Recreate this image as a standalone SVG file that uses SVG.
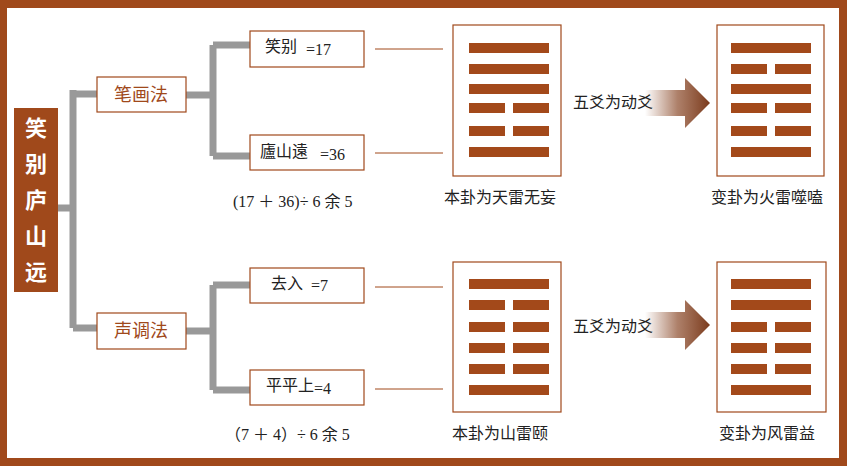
<svg xmlns="http://www.w3.org/2000/svg" width="847" height="466" viewBox="0 0 847 466">
<style>
.b{fill:#fff;stroke:#A0491B;stroke-width:1.2}
.bar{fill:#A3491A}
.g{fill:none;stroke:#999;stroke-width:7}
.t{font-family:"Noto Sans CJK SC",sans-serif;font-size:16px;fill:#222}
.n{font-family:"Liberation Serif","Noto Sans CJK SC",serif;font-size:16px;fill:#222}
.o{font-family:"Noto Sans CJK SC",sans-serif;font-size:18px;fill:#A0491B}
.th{stroke:#A0491B;stroke-width:1}
</style>
<defs>
<linearGradient id="ag" x1="0" x2="1" y1="0" y2="0">
<stop offset="0" stop-color="#8B4A2A" stop-opacity="0"/>
<stop offset="0.5" stop-color="#8B4A2A" stop-opacity="0.7"/>
<stop offset="1" stop-color="#7A3A1C"/>
</linearGradient>
<g id="full"><rect class="bar" x="0" y="0" width="80" height="10"/></g>
<g id="brk"><rect class="bar" x="0" y="0" width="36" height="10"/><rect class="bar" x="44" y="0" width="36" height="10"/></g>
</defs>
<rect x="3" y="4" width="840" height="458" fill="#fff" stroke="#A0491B" stroke-width="8"/>
<g id="connectors">
<path class="g" d="M58 208H73M73 90V328M73 94H97M73 328H97"/>
<path class="g" d="M186 95H213M213 45V156M213 45H250M213 156H250"/>
<path class="g" d="M186 331H213M213 285V390M213 285H250M213 390H250"/>
<path class="th" d="M375 49H443M375 153H443M375 287H443M375 389H443"/>
<polygon points="645,90 685,90 685,78 710,103 685,128 685,116 645,116" fill="url(#ag)"/>
<polygon points="645,312 685,312 685,300 710,325 685,350 685,338 645,338" fill="url(#ag)"/>
</g>
<g id="root"><rect x="14" y="108" width="44" height="184" fill="#A0491B"/>
<text font-family="Noto Sans CJK SC,sans-serif" font-size="22" font-weight="bold" fill="#fff" text-anchor="middle"><tspan x="36" y="136">笑</tspan><tspan x="36" y="172">别</tspan><tspan x="36" y="208">庐</tspan><tspan x="36" y="244">山</tspan><tspan x="36" y="280">远</tspan></text></g>
<g id="bihua"><rect class="b" x="97" y="77" width="89" height="35"/><text class="o" x="141" y="101" text-anchor="middle">笔画法</text></g>
<g id="shengdiao"><rect class="b" x="97" y="313" width="89" height="36"/><text class="o" x="141" y="337" text-anchor="middle">声调法</text></g>
<g id="n1"><rect class="b" x="250" y="31" width="114" height="36"/><text class="t" x="265" y="52">笑别</text><text class="n" x="306" y="55">=17</text></g>
<g id="n2"><rect class="b" x="250" y="135" width="114" height="35"/><text class="t" x="260" y="157">廬山遠</text><text class="n" x="320" y="160">=36</text></g>
<g id="n3"><rect class="b" x="250" y="268" width="114" height="35"/><text class="t" x="271" y="289">去入</text><text class="n" x="311" y="291">=7</text></g>
<g id="n4"><rect class="b" x="250" y="370" width="114" height="35"/><text class="t" x="266" y="391">平平上</text><text class="n" x="314" y="394">=4</text></g>
<text class="n" x="233" y="207">(17 ＋ 36)÷ 6 余 5</text>
<text class="n" x="225" y="440">（7 ＋ 4）÷ 6 余 5</text>
<g id="hex1"><rect class="b" x="453" y="25" width="108" height="151"/>
<use href="#full" x="469" y="43"/><use href="#full" x="469" y="64"/><use href="#full" x="469" y="84"/><use href="#brk" x="469" y="103"/><use href="#brk" x="469" y="126"/><use href="#full" x="469" y="147"/>
<text class="t" x="500" y="203" text-anchor="middle">本卦为天雷无妄</text></g>
<g id="hex2"><rect class="b" x="717" y="25" width="107" height="151"/>
<use href="#full" x="731" y="43"/><use href="#brk" x="731" y="64"/><use href="#full" x="731" y="84"/><use href="#brk" x="731" y="103"/><use href="#brk" x="731" y="126"/><use href="#full" x="731" y="147"/>
<text class="t" x="767" y="203" text-anchor="middle">变卦为火雷噬嗑</text></g>
<g id="hex3"><rect class="b" x="453" y="262" width="108" height="150"/>
<use href="#full" x="469" y="279"/><use href="#brk" x="469" y="300"/><use href="#brk" x="469" y="322"/><use href="#brk" x="469" y="343"/><use href="#brk" x="469" y="364"/><use href="#full" x="469" y="385"/>
<text class="t" x="500" y="439" text-anchor="middle">本卦为山雷颐</text></g>
<g id="hex4"><rect class="b" x="717" y="262" width="109" height="150"/>
<use href="#full" x="731" y="279"/><use href="#full" x="731" y="300"/><use href="#brk" x="731" y="322"/><use href="#brk" x="731" y="343"/><use href="#brk" x="731" y="364"/><use href="#full" x="731" y="385"/>
<text class="t" x="767" y="439" text-anchor="middle">变卦为风雷益</text></g>
<text class="t" x="573" y="108">五爻为动爻</text>
<text class="t" x="573" y="332">五爻为动爻</text>
</svg>
